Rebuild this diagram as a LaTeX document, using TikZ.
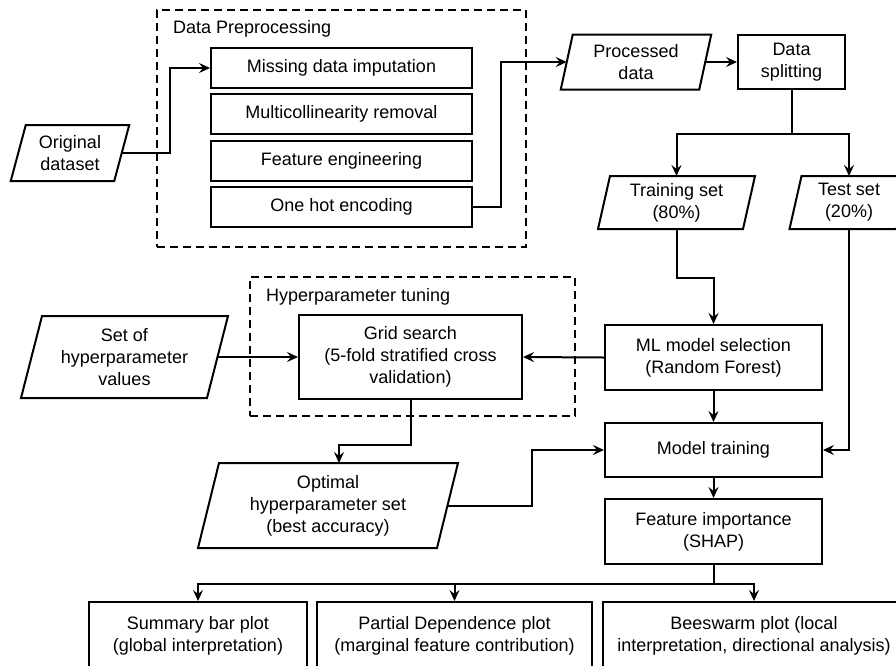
\documentclass[tikz,border=0pt]{standalone}
\usepackage{fontspec}
\setmainfont{Liberation Sans}
\usetikzlibrary{arrows.meta}
\newcommand\drawpara[2]{\draw[lw] ([xshift=#2]#1.north west) -- ([xshift=#2]#1.north east) -- ([xshift=-#2]#1.south east) -- ([xshift=-#2]#1.south west) -- cycle;}
\begin{document}
\begin{tikzpicture}[x=1pt,y=-1pt,
  font=\fontsize{18}{22}\selectfont,
  lw/.style={line width=2pt},
  box/.style={draw, lw, align=center, inner sep=0pt},
  para/.style={align=center, inner sep=0pt, outer sep=0pt},
  grp/.style={draw, line width=2pt, dash pattern=on 8pt off 5pt, inner sep=0pt},
  arr/.style={lw, -{Stealth[length=11pt,width=10pt,inset=4pt]}},
  con/.style={lw}]
\useasboundingbox (0,0) rectangle (896,665);
\clip (0,0) rectangle (896,665);

% groups
\node[grp, minimum width=369pt, minimum height=237pt] (prep) at (341.5,128.5) {};
\node[anchor=west, inner sep=0pt] (preplabel) at (173,29) {Data Preprocessing};
\node[grp, minimum width=325pt, minimum height=139pt] (hyp) at (412.5,346.5) {};
\node[anchor=west, inner sep=0pt] (hyplabel) at (266,297) {Hyperparameter tuning};

% parallelograms
\node[para, minimum width=103.5pt, minimum height=56pt] (orig) at (70,153) {Original\\dataset};
\drawpara{orig}{7.5pt}
\node[para, minimum width=138.5pt, minimum height=55pt] (proc) at (636,62) {Processed\\data};
\drawpara{proc}{6pt}
\node[para, minimum width=145pt, minimum height=53pt] (train) at (676.5,202.5) {Training set\\(80\%)};
\drawpara{train}{6pt}
\node[para, minimum width=107pt, minimum height=53pt] (test) at (849,202.5) {Test set\\(20\%)};
\drawpara{test}{6pt}
\node[para, minimum width=186pt, minimum height=82pt] (set) at (124.5,357) {Set of\\hyperparameter\\values};
\drawpara{set}{10.5pt}
\node[para, minimum width=239pt, minimum height=85pt] (opt) at (328,505.5) {Optimal\\hyperparameter set\\(best accuracy)};
\drawpara{opt}{10.5pt}

% boxes
\node[box, minimum width=261pt, minimum height=40pt] (m1) at (341.5,68) {Missing data imputation};
\node[box, minimum width=261pt, minimum height=40pt] (m2) at (341.5,114) {Multicollinearity removal};
\node[box, minimum width=261pt, minimum height=40pt] (m3) at (341.5,160.5) {Feature engineering};
\node[box, minimum width=261pt, minimum height=40pt] (m4) at (341.5,207) {One hot encoding};
\node[box, minimum width=107pt, minimum height=54pt] (split) at (791.5,62) {Data\\splitting};
\node[box, minimum width=217pt, minimum height=65pt] (ml) at (713.5,357.5) {ML model selection\\(Random Forest)};
\node[box, minimum width=217pt, minimum height=54pt] (mt) at (713.5,450) {Model training};
\node[box, minimum width=217pt, minimum height=65pt] (fi) at (713.5,531.5) {Feature importance\\(SHAP)};
\node[box, minimum width=223pt, minimum height=84pt] (grid) at (410.5,357) {Grid search\\(5-fold stratified cross\\validation)};
\node[box, minimum width=218pt, minimum height=68pt] (sum) at (198,636) {Summary bar plot\\(global interpretation)};
\node[box, minimum width=275pt, minimum height=68pt] (pd) at (454.5,636) {Partial Dependence plot\\(marginal feature contribution)};
\node[box, minimum width=302pt, minimum height=68pt] (bee) at (754,636) {Beeswarm plot (local\\interpretation, directional analysis)};

% connectors
\draw[arr] (orig.east) -- ++(48,0) |- (m1.west);
\draw[arr] (m4.east) -- ++(28,0) |- (proc.west);
\draw[arr] (proc.east) -- (split.west);
\draw[arr] (split.south) -- ++(0,44) -| (train.north);
\draw[arr] (split.south) -- ++(0,44) -| (test.north);
\draw[arr] (train.south) -- ++(0,49) -| (ml.north);
\draw[arr] (ml.south) -- (mt.north);
\draw[arr] (test.south) |- (mt.east);
\draw[arr] (mt.south) -- (fi.north);
\draw[arr] (ml.west) -- (grid.east);
\draw[arr] (set.east) -- (grid.west);
\draw[arr] (grid.south) -- ++(0,45) -| ([xshift=11pt]opt.north);
\draw[arr] (opt.east) -- ++(84.5,0) |- (mt.west);
\draw[arr] (fi.south) -- ++(0,19) -| (sum.north);
\draw[arr] (fi.south) -- ++(0,19) -| (pd.north);
\draw[arr] (fi.south) -- ++(0,19) -| (bee.north);
\end{tikzpicture}
\end{document}
